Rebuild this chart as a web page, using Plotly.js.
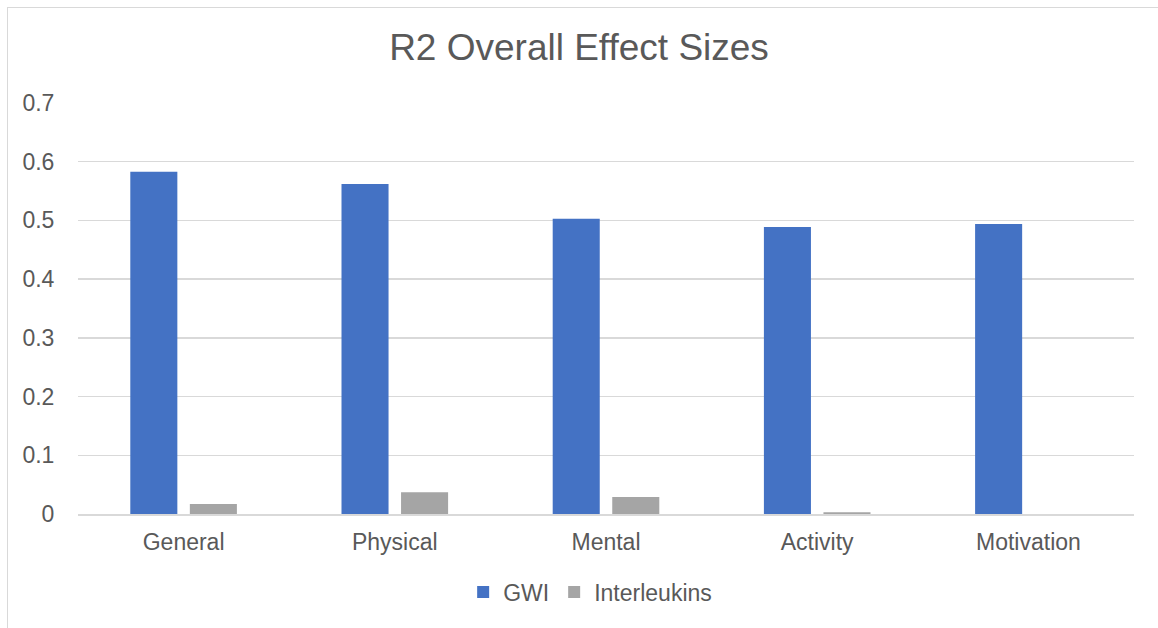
<!DOCTYPE html>
<html><head><meta charset="utf-8">
<script src="https://cdn.plot.ly/plotly-3.0.1.min.js"></script>
<style>
html,body{margin:0;padding:0;background:#fff;}
#chart{width:1158px;height:628px;}
#frame{position:absolute;left:7px;top:7px;width:1160px;height:640px;border:1.5px solid #d9d9d9;pointer-events:none;}
</style></head>
<body>
<div id="chart"></div>
<div id="frame"></div>
<script>
const categories = ["General","Physical","Mental","Activity","Motivation"];
const gwi = [0.583, 0.562, 0.503, 0.489, 0.494];
const interleukins = [0.017, 0.037, 0.029, 0.003, 0.0];
const tickVals = [0,0.1,0.2,0.3,0.4,0.5,0.6,0.7];
const tickText = ["0","0.1","0.2","0.3","0.4","0.5","0.6","0.7"];

const data = [
  {type:'bar', name:'GWI', x:categories, y:gwi, marker:{color:'#4472C4'}},
  {type:'bar', name:'Interleukins', x:categories, y:interleukins, marker:{color:'#A5A5A5'}}
];
const layout = {
  width:1158, height:628,
  margin:{l:78, r:24, t:103, b:114},
  paper_bgcolor:'#fff', plot_bgcolor:'#fff',
  font:{family:'Liberation Sans, Arial, sans-serif', color:'#595959', size:23},
  title:{text:'R2 Overall Effect Sizes', font:{size:37, color:'#595959'}, x:0.5, xanchor:'center', y:0.925, yanchor:'middle'},
  barmode:'group', bargap:0.436, bargroupgap:0.21,
  xaxis:{automargin:false, tickfont:{size:23,color:'#595959'}, showline:true, linecolor:'#d9d9d9', linewidth:1.5, ticks:'outside', ticklen:7, tickcolor:'rgba(0,0,0,0)', showgrid:false},
  yaxis:{automargin:false, range:[0,0.7], tickvals:tickVals, ticktext:tickText, tickfont:{size:23,color:'#595959'}, gridcolor:'#d9d9d9', gridwidth:1.3, zeroline:false, ticks:'outside', ticklen:18, tickcolor:'rgba(0,0,0,0)'},
  legend:{orientation:'h', x:0.485, xanchor:'center', y:-0.19, yanchor:'middle', font:{size:23,color:'#595959'}, itemwidth:30},
  showlegend:true
};
Plotly.newPlot('chart', data, layout, {displayModeBar:false, staticPlot:true});
</script>
</body></html>
